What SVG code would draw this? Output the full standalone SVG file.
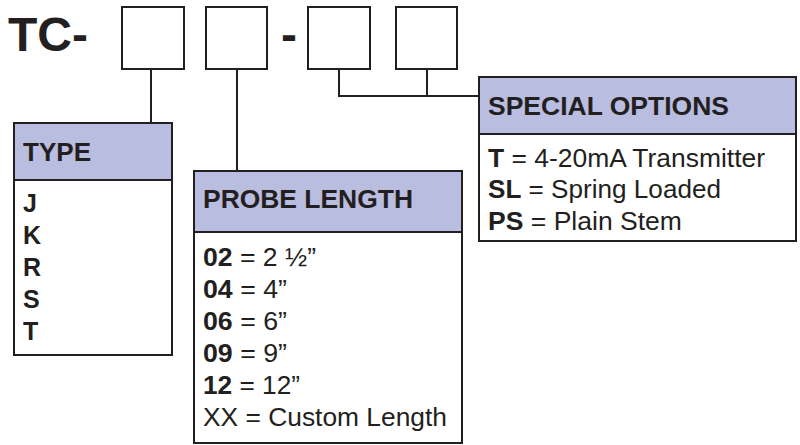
<svg xmlns="http://www.w3.org/2000/svg" width="800" height="445" viewBox="0 0 800 445">
<style>
.ln{stroke:#231f20;stroke-width:2;fill:none}
.slot{fill:#fff;stroke:#231f20;stroke-width:2}
.box{fill:#fff;stroke:#231f20;stroke-width:2}
.hdr{fill:#b9bde0;stroke:#231f20;stroke-width:2}
.t{font-family:"Liberation Sans",Arial,sans-serif;fill:#231f20;font-size:25px}
.b{font-weight:bold}
.big{font-family:"Liberation Sans",Arial,sans-serif;fill:#231f20;font-size:48px;font-weight:bold}
</style>
<rect width="800" height="445" fill="#fff"/>
<g id="code">
<text class="big" x="8" y="51">TC-</text>
<rect class="slot" x="122" y="7" width="62" height="62"/>
<rect class="slot" x="206" y="7" width="61" height="62"/>
<text class="big" x="281" y="51">-</text>
<rect class="slot" x="308" y="7" width="62" height="62"/>
<rect class="slot" x="396" y="7" width="61" height="62"/>
</g>
<g id="connectors">
<path class="ln" d="M151 69V123"/>
<path class="ln" d="M237 69V171"/>
<path class="ln" d="M339 69V96H479"/>
<path class="ln" d="M427 69V96"/>
</g>
<g id="type">
<rect class="box" x="14" y="123" width="158" height="232"/>
<rect class="hdr" x="14" y="123" width="158" height="57"/>
<text class="t b" x="23" y="161" textLength="68" lengthAdjust="spacingAndGlyphs">TYPE</text>
<text class="t b" x="23" y="212">J</text>
<text class="t b" x="23" y="244">K</text>
<text class="t b" x="23" y="276">R</text>
<text class="t b" x="23" y="308">S</text>
<text class="t b" x="23" y="340">T</text>
</g>
<g id="probe-length">
<rect class="box" x="194" y="171" width="268" height="272"/>
<rect class="hdr" x="194" y="171" width="268" height="61"/>
<text class="t b" x="203" y="208" textLength="210" lengthAdjust="spacingAndGlyphs">PROBE LENGTH</text>
<text class="t" x="203" y="266" textLength="113" lengthAdjust="spacingAndGlyphs"><tspan class="b">02</tspan> = 2 ½”</text>
<text class="t" x="203" y="298" textLength="84" lengthAdjust="spacingAndGlyphs"><tspan class="b">04</tspan> = 4”</text>
<text class="t" x="203" y="330" textLength="84" lengthAdjust="spacingAndGlyphs"><tspan class="b">06</tspan> = 6”</text>
<text class="t" x="203" y="362" textLength="84" lengthAdjust="spacingAndGlyphs"><tspan class="b">09</tspan> = 9”</text>
<text class="t" x="203" y="394" textLength="97" lengthAdjust="spacingAndGlyphs"><tspan class="b">12</tspan> = 12”</text>
<text class="t" x="203" y="426" textLength="244" lengthAdjust="spacingAndGlyphs">XX = Custom Length</text>
</g>
<g id="special-options">
<rect class="box" x="479" y="77" width="317" height="164"/>
<rect class="hdr" x="479" y="77" width="317" height="57"/>
<text class="t b" x="488" y="115" textLength="241" lengthAdjust="spacingAndGlyphs">SPECIAL OPTIONS</text>
<text class="t" x="488" y="167" textLength="277" lengthAdjust="spacingAndGlyphs"><tspan class="b">T</tspan> = 4-20mA Transmitter</text>
<text class="t" x="488" y="198" textLength="233" lengthAdjust="spacingAndGlyphs"><tspan class="b">SL</tspan> = Spring Loaded</text>
<text class="t" x="488" y="230" textLength="194" lengthAdjust="spacingAndGlyphs"><tspan class="b">PS</tspan> = Plain Stem</text>
</g>
</svg>
